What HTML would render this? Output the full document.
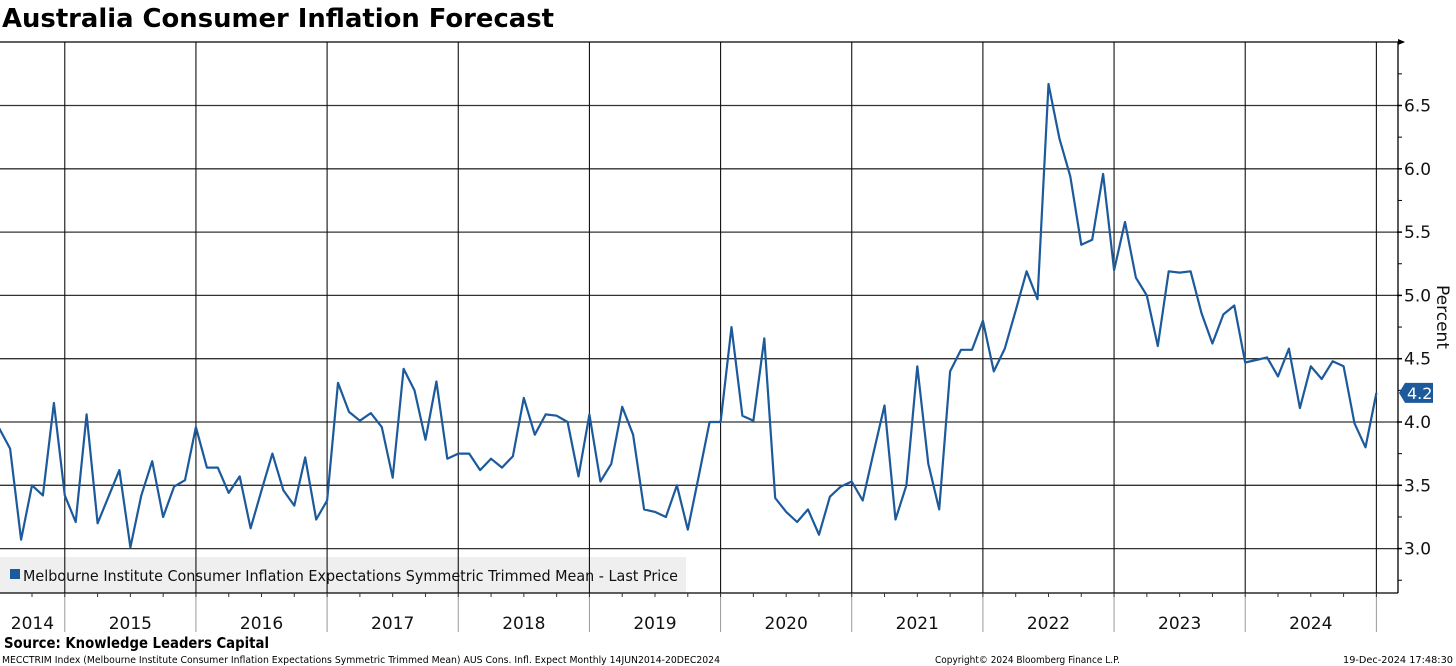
<!DOCTYPE html>
<html><head><meta charset="utf-8">
<style>
html,body{margin:0;padding:0;background:#fff;width:1456px;height:666px;overflow:hidden}
svg{display:block}
text{font-family:"DejaVu Sans","Liberation Sans",sans-serif}
</style></head>
<body>
<svg id="chart" width="1456" height="666" viewBox="0 0 1456 666" xmlns="http://www.w3.org/2000/svg">
<text x="2" y="27" font-family="Liberation Sans, sans-serif" font-weight="bold" font-size="26" textLength="552" lengthAdjust="spacingAndGlyphs">Australia Consumer Inflation Forecast</text>
<g id="grid"></g>
<rect x="0" y="557" width="686" height="36" fill="#efefef"/>
<g id="vlines"></g>
<path id="series" fill="none" stroke="#1c5a9c" stroke-width="2.2" stroke-linejoin="round"/>
<g id="axis"></g>
<rect x="10" y="569" width="10" height="10" fill="#1c5a9c"/>
<text x="23" y="581" font-size="15" textLength="655" lengthAdjust="spacingAndGlyphs" fill="#111">Melbourne Institute Consumer Inflation Expectations Symmetric Trimmed Mean - Last Price</text>
<text transform="translate(1437,317) rotate(90)" text-anchor="middle" font-size="17" fill="#111">Percent</text>
<g>
<path id="tagpath" fill="#1c5a9c"/>
<text id="tagtext" x="1407" font-size="16" fill="#fff"></text>
</g>
<text x="4" y="648" font-family="Liberation Sans, sans-serif" font-weight="bold" font-size="15" textLength="265" lengthAdjust="spacingAndGlyphs">Source: Knowledge Leaders Capital</text>
<text x="2" y="663" font-size="10" textLength="718" lengthAdjust="spacingAndGlyphs">MECCTRIM Index (Melbourne Institute Consumer Inflation Expectations Symmetric Trimmed Mean) AUS Cons. Infl. Expect  Monthly 14JUN2014-20DEC2024</text>
<text x="935" y="663" font-size="10" textLength="185" lengthAdjust="spacingAndGlyphs">Copyright© 2024 Bloomberg Finance L.P.</text>
<text x="1343" y="663" font-size="10" textLength="110" lengthAdjust="spacingAndGlyphs">19-Dec-2024 17:48:30</text>
</svg>
<script>
const values=[3.95,3.79,3.07,3.50,3.42,4.15,3.42,3.21,4.06,3.20,3.41,3.62,3.01,3.42,3.69,3.25,3.49,3.54,3.96,3.64,3.64,3.44,3.57,3.16,3.46,3.75,3.46,3.34,3.72,3.23,3.38,4.31,4.08,4.01,
4.07,3.96,3.56,4.42,4.25,3.86,4.32,3.71,3.75,3.75,3.62,3.71,3.64,3.73,4.19,3.90,4.06,4.05,4.00,3.57,4.06,3.53,3.67,4.12,3.90,3.31,3.29,3.25,3.50,3.15,3.57,4.00,4.00,
4.75,4.05,4.01,4.66,3.40,3.29,3.21,3.31,3.11,3.41,3.49,3.53,3.38,3.76,4.13,3.23,3.50,4.44,3.67,3.31,4.40,4.57,4.57,4.80,
4.40,4.58,4.88,5.19,4.97,6.67,6.24,5.94,5.40,5.44,5.96,5.20,5.58,5.14,5.00,4.60,5.19,5.18,5.19,4.86,4.62,4.85,4.92,4.47,4.49,4.51,4.36,4.58,4.11,4.44,4.34,4.48,4.44,3.99,3.80,4.23];
const years=["2014","2015","2016","2017","2018","2019","2020","2021","2022","2023","2024"];
const yTicks=[3.0,3.5,4.0,4.5,5.0,5.5,6.0,6.5];
const startMonth=6; // offset of first point relative to Jan 2014 in plotted months
const NS="http://www.w3.org/2000/svg";
const L=0,R=1398,T=42,B=593;
const monthW=10.93, x0=-0.8;
function xm(m){return x0+(m-startMonth)*monthW;}
function x(i){return x0+i*monthW;}
function y(v){return 422-(v-4)*126.6;}
function el(tag,attrs,parent){const e=document.createElementNS(NS,tag);for(const k in attrs)e.setAttribute(k,attrs[k]);parent.appendChild(e);return e;}
const grid=document.getElementById('grid'),vl=document.getElementById('vlines'),ax=document.getElementById('axis');
yTicks.forEach(v=>{
  const l=el('line',{x1:L,x2:R,y1:y(v),y2:y(v),stroke:'#333','stroke-width':1.3},grid);
  
  
  const t=el('text',{x:R+6,y:y(v)+6,'font-size':17,fill:'#111'},ax);
  t.textContent=v.toFixed(1);
  
  
  el('line',{x1:R-1,x2:R+4,y1:y(v),y2:y(v),stroke:'#000','stroke-width':1.5},ax);
});
for(let v=2.75;v<=6.75;v+=0.5){el('line',{x1:R,x2:R+4,y1:y(v),y2:y(v),stroke:'#000','stroke-width':1},ax);}
let b=el('line',{x1:0,x2:R+6,y1:T,y2:T,stroke:'#000','stroke-width':1.3},ax);

b=el('line',{x1:R,x2:R,y1:T,y2:B,stroke:'#000','stroke-width':1.3},ax);

b=el('line',{x1:0,x2:R,y1:B,y2:B,stroke:'#000','stroke-width':1.3},ax);

el('path',{d:`M${R+7} ${T} L${R} ${T-3} L${R} ${T+3}Z`,fill:'#000'},ax);
for(let k=1;k<=years.length;k++){
  const xx=xm(k*12);
  const l=el('line',{x1:xx,x2:xx,y1:T,y2:B,stroke:'#111','stroke-width':1.1},vl);
  
  
  el('line',{x1:xx,x2:xx,y1:B,y2:632,stroke:'#999','stroke-width':1},ax);
}
for(let m=6;m<=years.length*12;m+=3){el('line',{x1:xm(m),x2:xm(m),y1:B,y2:B+4,stroke:'#333','stroke-width':1},ax);}
years.forEach((yr,k)=>{
  const a=Math.max(0,xm(k*12)),bb=Math.min(R,xm((k+1)*12));
  const t=el('text',{x:(a+bb)/2,y:629,'text-anchor':'middle','font-size':17,fill:'#111'},ax);
  t.textContent=yr;
  
  
});
let d='';values.forEach((v,i)=>{d+=(i?'L':'M')+x(i).toFixed(1)+' '+y(v).toFixed(1);});
document.getElementById('series').setAttribute('d',d);
const last=values[values.length-1],ly=y(last);
document.getElementById('tagpath').setAttribute('d',`M1399 ${ly} L1405 ${ly-10} L1433 ${ly-10} L1433 ${ly+10} L1405 ${ly+10}Z`);
const tt=document.getElementById('tagtext');tt.setAttribute('y',ly+6);tt.textContent=last.toFixed(1);
</script>
</body></html>
